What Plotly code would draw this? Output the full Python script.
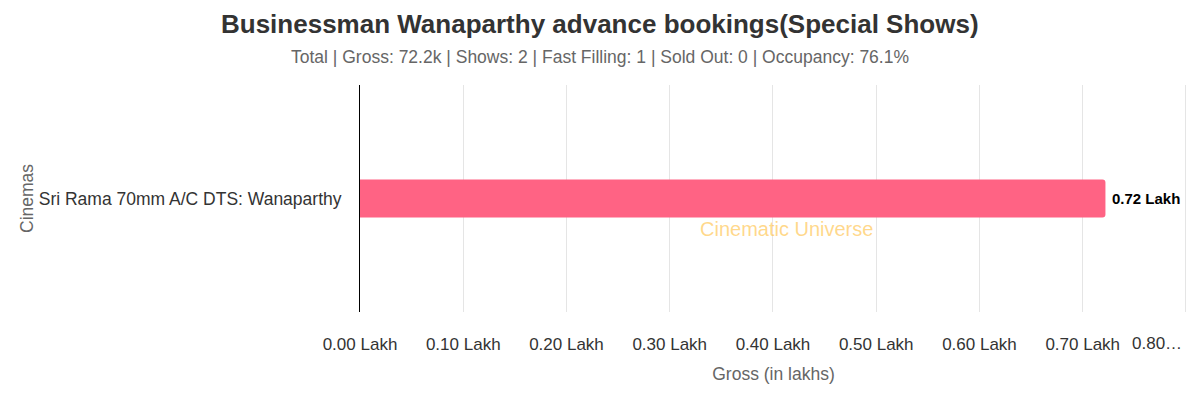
import plotly.graph_objects as go

cinemas = ["Sri Rama 70mm A/C DTS: Wanaparthy"]
gross_lakh = [0.722]
bar_labels = ["0.72 Lakh"]
tick_vals = [0.0, 0.1, 0.2, 0.3, 0.4, 0.5, 0.6, 0.7, 0.8]
tick_text = ["0.00 Lakh", "0.10 Lakh", "0.20 Lakh", "0.30 Lakh", "0.40 Lakh",
             "0.50 Lakh", "0.60 Lakh", "0.70 Lakh", "0.80…"]

title = "Businessman Wanaparthy advance bookings(Special Shows)"
subtitle = "Total | Gross: 72.2k | Shows: 2 | Fast Filling: 1 | Sold Out: 0 | Occupancy: 76.1%"

FONT = "Liberation Sans, Arial, sans-serif"

W, H = 1200, 400
l, r, t, b = 360, 13, 85, 88
pw, ph = W - l - r, H - t - b


def px(x, y):
    return (x - l) / pw, (H - b - y) / ph


fig = go.Figure(go.Bar(
    x=gross_lakh, y=cinemas, orientation="h",
    marker=dict(color="#FF6384", cornerradius=3, line=dict(width=0)),
    width=0.167,
    hoverinfo="x+y",
))

annotations = []
for xv, yv, lab in zip(gross_lakh, cinemas, bar_labels):
    annotations.append(dict(
        text="<b>" + lab + "</b>", x=xv, y=yv, xref="x", yref="y",
        xanchor="left", yanchor="middle", xshift=5, showarrow=False,
        font=dict(size=15, color="#000000"),
    ))

# last tick label would overflow the page; draw it truncated, right-aligned at its tick
annotations.append(dict(
    text=tick_text[-1], x=tick_vals[-1], y=px(0, 343)[1], xref="x", yref="paper",
    xanchor="right", yanchor="middle", xshift=-2, showarrow=False,
    font=dict(size=17, color="#333333"),
))

for txt, (x, y), size, color, angle in [
    ("<b>" + title + "</b>", (600, 24), 26, "#333333", 0),
    (subtitle, (600, 57), 17.5, "#666666", 0),
    ("Cinemas", (27, 199), 17.5, "#666666", -90),
    ("Cinematic Universe", (786, 229), 20, "rgba(255,190,60,0.6)", 0),
]:
    ax, ay = px(x, y)
    annotations.append(dict(
        text=txt, x=ax, y=ay, xref="paper", yref="paper",
        xanchor="center", yanchor="middle", textangle=angle, showarrow=False,
        font=dict(size=size, color=color),
    ))

fig.update_layout(
    width=W, height=H,
    margin=dict(l=l, r=r, t=t, b=b),
    paper_bgcolor="white", plot_bgcolor="white",
    font=dict(family=FONT, color="#333333", size=16),
    showlegend=False,
    xaxis=dict(
        range=[0, 0.801], tickvals=tick_vals, ticktext=tick_text[:-1] + [""],
        showgrid=True, gridcolor="#e5e5e5", gridwidth=1,
        zeroline=False, showline=False,
        ticks="outside", ticklen=17, tickcolor="rgba(0,0,0,0)",
        tickfont=dict(size=17, color="#333333"),
        title=dict(text="Gross (in lakhs)", font=dict(size=17.5, color="#666666"), standoff=14),
        automargin=False,
    ),
    yaxis=dict(
        range=[-0.5, 0.5], showgrid=False, zeroline=False,
        showline=True, linecolor="#000000", linewidth=1,
        ticks="outside", ticklen=14, tickcolor="rgba(0,0,0,0)",
        tickfont=dict(size=17.5, color="#333333"),
        automargin=False,
    ),
    annotations=annotations,
)

fig.write_html("out.html")
